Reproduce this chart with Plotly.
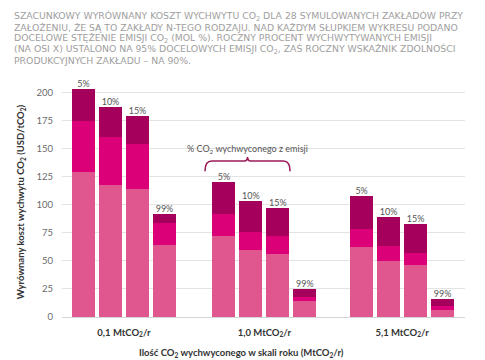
import plotly.graph_objects as go

groups = ["0,1 MtCO<sub>2</sub>/r", "1,0 MtCO<sub>2</sub>/r", "5,1 MtCO<sub>2</sub>/r"]
concentrations = ["5%", "10%", "15%", "99%"]

# stacked components per bar (group-major order: 3 groups x 4 concentrations)
light = [129, 118, 114, 64,   72, 60, 56, 14,   62, 50, 46, 6.6]
mid   = [46,  42,  40,  20,   20, 16, 16, 4,    16, 13, 11, 3]
dark  = [28,  27,  25,  8,    28, 27, 25, 7,    30, 26, 26, 6.5]

title_lines = [
    "SZACUNKOWY WYRÓWNANY KOSZT WYCHWYTU CO<sub>2</sub> DLA 28 SYMULOWANYCH ZAKŁADÓW PRZY",
    "ZAŁOŻENIU, ŻE SĄ TO ZAKŁADY N-TEGO RODZAJU. NAD KAŻDYM SŁUPKIEM WYKRESU PODANO",
    "DOCELOWE STĘŻENIE EMISJI CO<sub>2</sub> (MOL %). ROCZNY PROCENT WYCHWYTYWANYCH EMISJI",
    "(NA OSI X) USTALONO NA 95% DOCELOWYCH EMISJI CO<sub>2</sub>, ZAŚ ROCZNY WSKAŹNIK ZDOLNOŚCI",
    "PRODUKCYJNYCH ZAKŁADU – NA 90%.",
]

c_light = "#E0578F"
c_mid = "#DB0077"
c_dark = "#A5005C"

# page body has an 8px margin: work in window pixels, convert to figure pixels
OFF = 8
FW, FH = 485 - OFF, 360 - OFF
L, R, T, B = 62 - OFF, 465 - OFF, 86.7 - OFF, 316.7 - OFF
W, H = R - L, B - T

group_step = 5.1
pos = []
for g in range(len(groups)):
    for i in range(len(concentrations)):
        pos.append(g * group_step + i + (0.1 if g > 0 else 0))
group_centers = [sum(pos[g*4:(g+1)*4]) / 4 for g in range(len(groups))]
totals = [a + b + c for a, b, c in zip(light, mid, dark)]
labels = concentrations * len(groups)

font_fam = "Lato, 'DejaVu Sans', sans-serif"
fig = go.Figure()
for vals, col in [(light, c_light), (mid, c_mid), (dark, c_dark)]:
    fig.add_trace(go.Bar(x=pos, y=vals, marker=dict(color=col, line=dict(width=0)),
                         width=0.85, showlegend=False, hoverinfo="skip"))
fig.add_trace(go.Scatter(x=pos, y=totals, mode="text", text=labels,
                         textposition="top center",
                         textfont=dict(size=9, color="#555555", family=font_fam),
                         showlegend=False, cliponaxis=False, hoverinfo="skip"))

# bracket over first three bars of the second group
b0 = pos[4] - 0.7
b1 = pos[6] + 0.45
bc = (b0 + b1) / 2
yb, ye, yt = 139, 130, 142.5
path = (f"M {b0},{ye} Q {b0},{yb} {b0+0.25},{yb} L {bc-0.12},{yb} "
        f"Q {bc},{yb} {bc},{yt} Q {bc},{yb} {bc+0.12},{yb} L {b1-0.25},{yb} "
        f"Q {b1},{yb} {b1},{ye}")
fig.add_shape(type="path", path=path, xref="x", yref="y",
              line=dict(color="#9B1B5A", width=1.6))
fig.add_annotation(x=bc, y=149.5, xref="x", yref="y", showarrow=False,
                   text="% CO<sub>2</sub> wychwyconego z emisji",
                   font=dict(size=9, color="#555555", family=font_fam))

for k, line in enumerate(title_lines):
    ypx = 10 + 11 * k - OFF + 6
    fig.add_annotation(x=(12 - OFF - L) / W, y=(B - ypx) / H, xref="paper", yref="paper",
                       xanchor="left", yanchor="middle", align="left", showarrow=False,
                       text=line,
                       font=dict(size=9.3, color="#A0A0A0", family="'DejaVu Sans', sans-serif"))

fig.add_annotation(x=(241 - OFF - L) / W, y=(B - (353 - OFF)) / H, xref="paper", yref="paper",
                   showarrow=False, yanchor="middle",
                   text="<b>Ilość CO<sub>2</sub> wychwyconego w skali roku (MtCO<sub>2</sub>/r)</b>",
                   font=dict(size=9.5, color="#333333", family=font_fam))

fig.update_layout(
    width=FW, height=FH,
    margin=dict(l=L, r=FW - R, t=T, b=FH - B),
    paper_bgcolor="white", plot_bgcolor="white",
    barmode="stack", bargap=0,
    font=dict(family=font_fam),
    xaxis=dict(range=[(62 - 83.5) / 27, (465 - 83.5) / 27], tickvals=group_centers,
               ticktext=["<b>" + g + "</b>" for g in groups], automargin=False,
               tickfont=dict(size=9.5, color="#333333"), showgrid=False, zeroline=False,
               showline=False, ticks="", ticklabelstandoff=8),
    yaxis=dict(range=[0, 205], tickvals=[0, 25, 50, 75, 100, 125, 150, 175, 200],
               tickfont=dict(size=9.5, color="#6A6A6A"), gridcolor="#E3E3E3", gridwidth=1,
               zeroline=True, zerolinecolor="#D5D5D5", zerolinewidth=1, automargin=False,
               ticks="", ticklabelstandoff=8,
               title=dict(text="<b>Wyrównany koszt wychwytu CO<sub>2</sub> (USD/tCO<sub>2</sub>)</b>",
                          font=dict(size=9.5, color="#333333"), standoff=10)),
)

fig.write_html("out.html")
